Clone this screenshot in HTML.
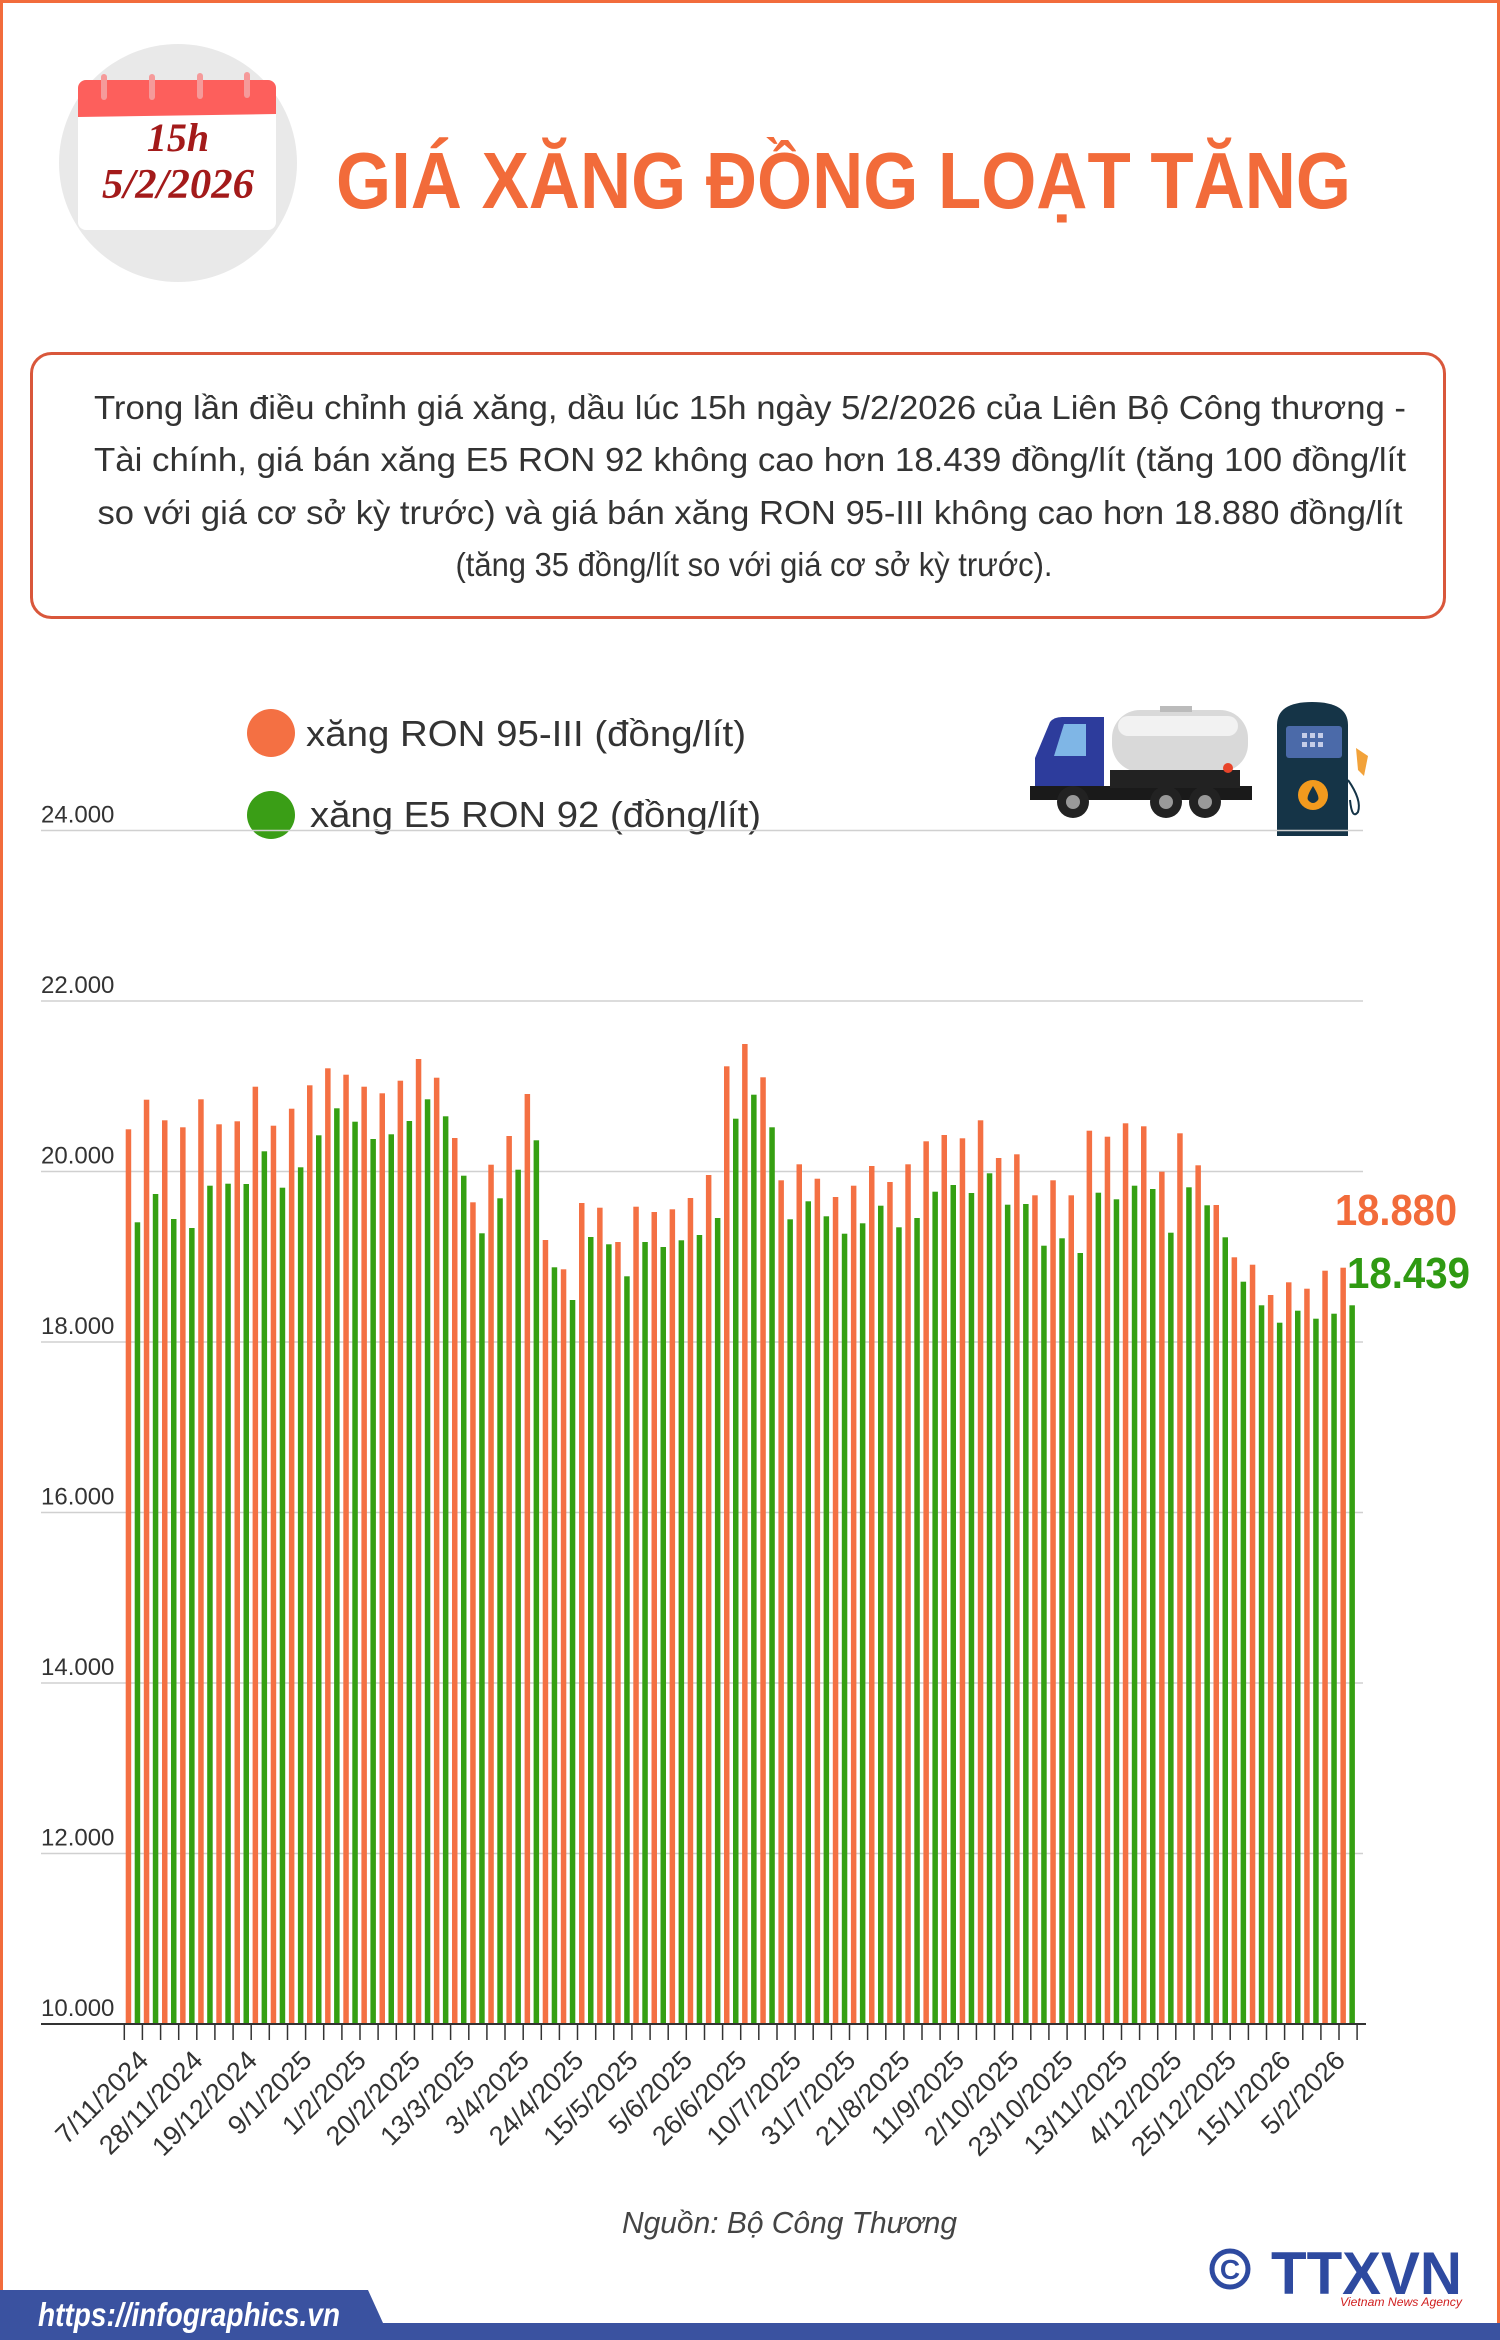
<!DOCTYPE html>
<html><head><meta charset="utf-8">
<style>
html,body{margin:0;padding:0;background:#fff;}
body{width:1500px;height:2340px;overflow:hidden;position:relative;}
svg{position:absolute;left:0;top:0;}
</style></head>
<body>
<svg id="s" width="1500" height="2340" viewBox="0 0 1500 2340" xmlns="http://www.w3.org/2000/svg" font-family="'Liberation Sans', sans-serif">
<rect x="1.5" y="1.5" width="1497" height="2337" fill="#fff" stroke="#f26c3c" stroke-width="3"/>
<!-- calendar -->
<circle cx="178" cy="163" r="119" fill="#e9e9e9"/>
<rect x="78" y="80" width="198" height="150" rx="8" fill="#fff"/>
<path d="M78 117 V88 a8 8 0 0 1 8 -8 H268 a8 8 0 0 1 8 8 V114 Z" fill="#fd5f5c"/>
<g stroke="#f59a9a" stroke-width="6" stroke-linecap="round">
<line x1="104" y1="77" x2="104" y2="97"/><line x1="152" y1="77" x2="152" y2="97"/><line x1="200" y1="76" x2="200" y2="96"/><line x1="247" y1="75" x2="247" y2="95"/></g>
<g font-family="'Liberation Serif', serif" font-style="italic" font-weight="bold" fill="#a31a1a" text-anchor="middle">
<text x="178" y="151" font-size="40">15h</text>
<text x="178" y="198" font-size="42" textLength="152" lengthAdjust="spacingAndGlyphs">5/2/2026</text></g>
<text x="336" y="208" font-size="80" font-weight="bold" fill="#f26b3a" textLength="1015" lengthAdjust="spacingAndGlyphs">GIÁ XĂNG ĐỒNG LOẠT TĂNG</text>
<!-- text box -->
<rect x="31.5" y="353.5" width="1413" height="264" rx="20" fill="#fff" stroke="#d9573b" stroke-width="3"/>
<g font-size="33" fill="#333" text-anchor="middle">
<text x="750" y="419" textLength="1312" lengthAdjust="spacingAndGlyphs">Trong lần điều chỉnh giá xăng, dầu lúc 15h ngày 5/2/2026 của Liên Bộ Công thương -</text>
<text x="750" y="471" textLength="1312" lengthAdjust="spacingAndGlyphs">Tài chính, giá bán xăng E5 RON 92 không cao hơn 18.439 đồng/lít (tăng 100 đồng/lít</text>
<text x="750" y="524" textLength="1305" lengthAdjust="spacingAndGlyphs">so với giá cơ sở kỳ trước) và giá bán xăng RON 95-III không cao hơn 18.880 đồng/lít</text>
<text x="754" y="576" textLength="597" lengthAdjust="spacingAndGlyphs">(tăng 35 đồng/lít so với giá cơ sở kỳ trước).</text></g>
<!-- legend -->
<circle cx="271" cy="733" r="24" fill="#f47043"/>
<circle cx="271" cy="815" r="24" fill="#3a9e16"/>
<g font-size="36" fill="#333">
<text x="306" y="746" textLength="440" lengthAdjust="spacingAndGlyphs">xăng RON 95-III (đồng/lít)</text>
<text x="310" y="827" textLength="451" lengthAdjust="spacingAndGlyphs">xăng E5 RON 92 (đồng/lít)</text></g>
<!-- truck -->
<rect x="1112" y="710" width="136" height="62" rx="28" fill="#d9d9d9"/>
<rect x="1118" y="716" width="120" height="20" rx="10" fill="#f2f2f2"/>
<rect x="1160" y="706" width="32" height="6" fill="#bbb"/>
<path d="M1035 758 L1050 722 Q1054 717 1062 717 H1104 V795 H1035 Z" fill="#2d3c9c"/>
<path d="M1054 756 L1064 724 H1086 V756 Z" fill="#7fb6e6"/>
<rect x="1030" y="786" width="222" height="14" fill="#1a1a1a"/>
<rect x="1110" y="770" width="130" height="18" fill="#222"/>
<circle cx="1073" cy="802" r="16" fill="#222"/><circle cx="1073" cy="802" r="7" fill="#999"/>
<circle cx="1166" cy="802" r="16" fill="#222"/><circle cx="1166" cy="802" r="7" fill="#999"/>
<circle cx="1205" cy="802" r="16" fill="#222"/><circle cx="1205" cy="802" r="7" fill="#999"/>
<circle cx="1228" cy="768" r="5" fill="#e8442a"/>
<!-- pump -->
<path d="M1277 836 V725 Q1277 702 1312 702 Q1348 702 1348 725 V836 Z" fill="#153447"/>
<rect x="1286" y="726" width="56" height="32" rx="3" fill="#4b6aa9"/>
<g fill="#c5cde8"><rect x="1302" y="733" width="5" height="5"/><rect x="1310" y="733" width="5" height="5"/><rect x="1318" y="733" width="5" height="5"/><rect x="1302" y="742" width="5" height="5"/><rect x="1310" y="742" width="5" height="5"/><rect x="1318" y="742" width="5" height="5"/></g>
<circle cx="1313" cy="795" r="15" fill="#f29a1e"/>
<path d="M1313 786 Q1306 797 1308 800 Q1313 806 1318 800 Q1320 797 1313 786Z" fill="#153447"/>
<path d="M1348 780 Q1362 800 1358 812 Q1352 820 1350 800" fill="none" stroke="#153447" stroke-width="2"/>
<path d="M1356 748 L1368 756 L1364 776 L1358 770 Z" fill="#f2a23a"/>
<g id="chart"></g>
<!-- value labels -->
<text x="1335" y="1225" font-size="44" font-weight="bold" fill="#f26b3a" textLength="122" lengthAdjust="spacingAndGlyphs">18.880</text>
<text x="1347" y="1288" font-size="44" font-weight="bold" fill="#2f9a12" textLength="123" lengthAdjust="spacingAndGlyphs">18.439</text>
<!-- source -->
<text x="622" y="2233" font-size="31" font-style="italic" fill="#444" textLength="335" lengthAdjust="spacingAndGlyphs">Nguồn: Bộ Công Thương</text>
<!-- footer -->
<path d="M0 2290 H368 L383 2323 H1500 V2340 H0 Z" fill="#3a52a0"/>
<text x="38" y="2326" font-size="33" font-style="italic" font-weight="bold" fill="#fff" textLength="302" lengthAdjust="spacingAndGlyphs">https://infographics.vn</text>
<circle cx="1230" cy="2269" r="18" fill="none" stroke="#2e4aa0" stroke-width="5"/>
<text x="1230" y="2279" font-size="28" font-weight="bold" fill="#2e4aa0" text-anchor="middle">C</text>
<text x="1271" y="2294" font-size="60" font-weight="bold" fill="#2e4aa0" textLength="191" lengthAdjust="spacingAndGlyphs">TTXVN</text>
<text x="1340" y="2306" font-size="12" font-style="italic" fill="#d02020" textLength="122" lengthAdjust="spacingAndGlyphs">Vietnam News Agency</text>
</svg>
<script>
var O=[328,239,301,322,238,313,304,200,317,266,196,145,164,200,220,182,117,173,354,547,434,348,222,660,748,549,563,666,560,576,568,534,465,139,72,172,481,433,476,531,497,438,486,433,364,345,355,301,414,403,526,481,526,332,350,310,319,455,340,436,555,712,734,825,787,806,752,743];
var G=[607,522,597,624,497,491,492,394,503,442,346,265,305,357,343,303,238,289,467,640,535,449,361,742,840,651,673,769,666,681,661,645,594,296,224,322,598,544,589,641,610,557,622,594,515,495,519,460,554,552,677,655,699,518,538,497,507,638,502,556,652,785,856,908,872,896,881,856];
var base=2024,h='';
var yl=['10.000','12.000','14.000','16.000','18.000','20.000','22.000','24.000'];
for(var k=0;k<8;k++){var y=base-k*170.5;
 if(k>0)h+='<line x1="41" x2="1363" y1="'+y+'" y2="'+y+'" stroke="#d0d0d0" stroke-width="1.5"/>';
 h+='<text x="41" y="'+(y-8)+'" font-size="24" fill="#333">'+yl[k]+'</text>';}
for(var i=0;i<68;i++){var x=125.7+i*18.13;var yo=1020+O[i]/3,yg=1020+G[i]/3;
 h+='<rect x="'+x.toFixed(1)+'" y="'+yo.toFixed(1)+'" width="5.5" height="'+(base-yo).toFixed(1)+'" fill="#f47043"/>';
 h+='<rect x="'+(x+9).toFixed(1)+'" y="'+yg.toFixed(1)+'" width="5.5" height="'+(base-yg).toFixed(1)+'" fill="#35a012"/>';}
h+='<line x1="41" x2="1366" y1="2024" y2="2024" stroke="#333" stroke-width="2"/>';
for(var t=0;t<69;t++){var tx=124.3+t*18.13;h+='<line x1="'+tx.toFixed(1)+'" x2="'+tx.toFixed(1)+'" y1="2024" y2="2040" stroke="#333" stroke-width="1.5"/>';}
var L=['7/11/2024','28/11/2024','19/12/2024','9/1/2025','1/2/2025','20/2/2025','13/3/2025','3/4/2025','24/4/2025','15/5/2025','5/6/2025','26/6/2025','10/7/2025','31/7/2025','21/8/2025','11/9/2025','2/10/2025','23/10/2025','13/11/2025','4/12/2025','25/12/2025','15/1/2026','5/2/2026'];
for(var j=0;j<L.length;j++){var ax=150+j*54.39,ay=2062;
 h+='<text x="'+ax.toFixed(1)+'" y="'+ay+'" font-size="27" fill="#333" text-anchor="end" transform="rotate(-45 '+ax.toFixed(1)+' '+ay+')">'+L[j]+'</text>';}
document.getElementById('chart').innerHTML=h;
</script>
</body></html>
